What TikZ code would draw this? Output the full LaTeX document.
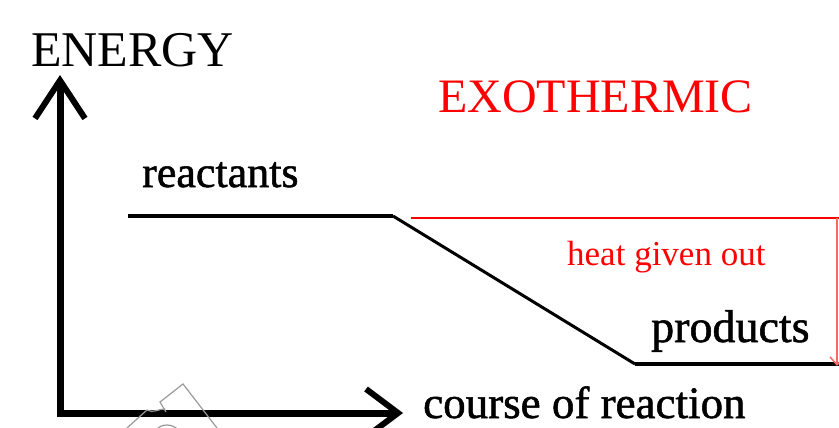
\documentclass[tikz,border=0pt]{standalone}
\usepackage{fontspec}
\setmainfont{Liberation Serif}
\newfontfamily\heavyserif[FakeBold=1.2]{Liberation Serif}
\usetikzlibrary{arrows.meta}
\begin{document}
\begin{tikzpicture}[x=1pt,y=-1pt,
  axisline/.style={line width=7pt, line join=miter},
  level/.style={line width=4pt},
  heatline/.style={red, line width=2.5pt},
  lbl/.style={anchor=base west, inner sep=0pt},
  mark line/.style={gray!80, line width=1.2pt}]
\clip (0,0) rectangle (839,428);
\coordinate (ytip) at (60,75);
\coordinate (origin) at (60,413);
\coordinate (xtip) at (403,413);
\coordinate (r1) at (128,216);
\coordinate (r2) at (393,216);
\coordinate (p1) at (635,364);
\coordinate (p2) at (845,364);
\coordinate (h1) at (411,218);
\coordinate (h2) at (845,218);
\coordinate (hdown1) at (837,218);
\coordinate (hdown2) at (837,366);
\node[lbl, font=\fontsize{50}{60}\selectfont] (energy) at (31,67) {ENERGY};
\node[lbl, text=red, font=\fontsize{48}{58}\selectfont] (exo) at (438,113) {EXOTHERMIC};
\node[lbl, font=\heavyserif\fontsize{44}{52}\selectfont] (reactants) at (142,187) {reactants};
\node[lbl, text=red, font=\fontsize{35}{42}\selectfont] (heat) at (567,265) {heat given out};
\node[lbl, font=\heavyserif\fontsize{46}{54}\selectfont] (products) at (651,342) {products};
\node[lbl, font=\heavyserif\fontsize{45}{54}\selectfont] (course) at (423,418) {course of reaction};
\draw[axisline, {Straight Barb[length=38pt,width=50pt,line width=6pt]}-{Straight Barb[length=32pt,width=48pt,line width=6pt]}] (ytip) -- (origin) -- (xtip);
\draw[level] (r1) -- (r2);
\draw[line width=3pt] (r2) -- (p1);
\draw[level] (p1) -- (p2);
\draw[heatline] (h1) -- (h2);
\draw[red!60, line width=1.5pt, -{Straight Barb[length=8pt,width=14pt]}] (hdown1) -- (hdown2);
\draw[mark line] (127,428) -- (147,410) to[out=-30,in=180] (165,409);
\draw[mark line] (166,412) -- (160,402) -- (183,384) -- (217,428);
\draw[mark line] (167,440) circle (15);
\end{tikzpicture}
\end{document}
